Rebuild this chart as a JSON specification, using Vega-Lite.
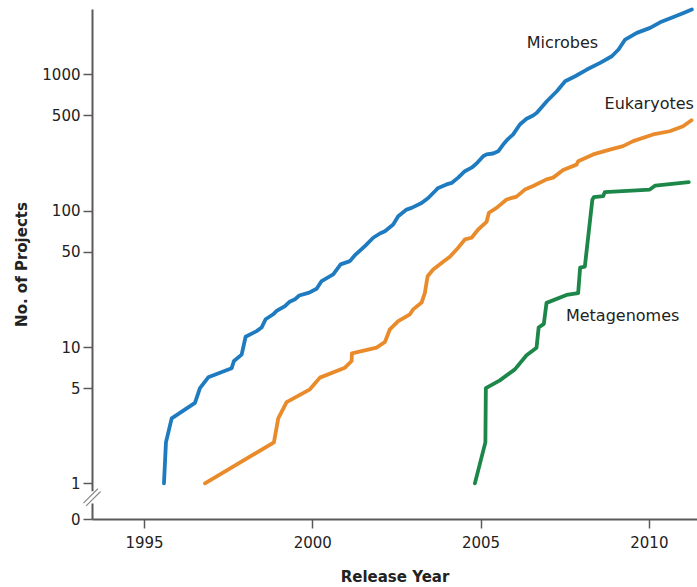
{
  "$schema": "https://vega.github.io/schema/vega-lite/v6.json",
  "autosize": {"type": "none"},
  "width": 605,
  "height": 510,
  "padding": {"left": 92, "top": 9, "right": 0, "bottom": 68},
  "background": "white",
  "config": {
    "view": {"stroke": null},
    "font": "DejaVu Sans",
    "axis": {
      "labelFont": "DejaVu Sans",
      "labelFontSize": 15,
      "labelColor": "#222222",
      "titleFont": "DejaVu Sans",
      "titleFontSize": 15,
      "titleFontWeight": "bold",
      "titleColor": "#222222",
      "domainColor": "#5a5a5a",
      "domainWidth": 2,
      "tickColor": "#5a5a5a",
      "tickWidth": 1.5,
      "tickSize": 9,
      "grid": false
    }
  },
  "datasets": {
    "curves": [
      {"series": "Microbes", "year": 1995.594, "count": 1},
      {"series": "Microbes", "year": 1995.653, "count": 2},
      {"series": "Microbes", "year": 1995.823, "count": 3},
      {"series": "Microbes", "year": 1996.515, "count": 3.9},
      {"series": "Microbes", "year": 1996.663, "count": 5},
      {"series": "Microbes", "year": 1996.91, "count": 6},
      {"series": "Microbes", "year": 1997.605, "count": 7},
      {"series": "Microbes", "year": 1997.673, "count": 7.9},
      {"series": "Microbes", "year": 1997.902, "count": 8.8},
      {"series": "Microbes", "year": 1998.02, "count": 11.9},
      {"series": "Microbes", "year": 1998.347, "count": 13.1},
      {"series": "Microbes", "year": 1998.493, "count": 13.9},
      {"series": "Microbes", "year": 1998.614, "count": 16},
      {"series": "Microbes", "year": 1998.84, "count": 17.4},
      {"series": "Microbes", "year": 1998.941, "count": 18.4},
      {"series": "Microbes", "year": 1999.188, "count": 20},
      {"series": "Microbes", "year": 1999.315, "count": 21.4},
      {"series": "Microbes", "year": 1999.485, "count": 22.4},
      {"series": "Microbes", "year": 1999.613, "count": 23.9},
      {"series": "Microbes", "year": 1999.91, "count": 25.1},
      {"series": "Microbes", "year": 2000.129, "count": 26.8},
      {"series": "Microbes", "year": 2000.278, "count": 30.5},
      {"series": "Microbes", "year": 2000.622, "count": 34.1},
      {"series": "Microbes", "year": 2000.842, "count": 40.4},
      {"series": "Microbes", "year": 2001.118, "count": 42.7},
      {"series": "Microbes", "year": 2001.267, "count": 47.2},
      {"series": "Microbes", "year": 2001.564, "count": 55},
      {"series": "Microbes", "year": 2001.81, "count": 63.4},
      {"series": "Microbes", "year": 2002.009, "count": 68.1},
      {"series": "Microbes", "year": 2002.158, "count": 70.8},
      {"series": "Microbes", "year": 2002.404, "count": 79.3},
      {"series": "Microbes", "year": 2002.553, "count": 91.2},
      {"series": "Microbes", "year": 2002.802, "count": 102},
      {"series": "Microbes", "year": 2002.951, "count": 105},
      {"series": "Microbes", "year": 2003.248, "count": 114},
      {"series": "Microbes", "year": 2003.444, "count": 124},
      {"series": "Microbes", "year": 2003.643, "count": 139},
      {"series": "Microbes", "year": 2003.741, "count": 147},
      {"series": "Microbes", "year": 2003.99, "count": 156},
      {"series": "Microbes", "year": 2004.139, "count": 160},
      {"series": "Microbes", "year": 2004.335, "count": 175},
      {"series": "Microbes", "year": 2004.534, "count": 195},
      {"series": "Microbes", "year": 2004.733, "count": 207},
      {"series": "Microbes", "year": 2004.881, "count": 222},
      {"series": "Microbes", "year": 2005.077, "count": 251},
      {"series": "Microbes", "year": 2005.178, "count": 259},
      {"series": "Microbes", "year": 2005.374, "count": 263},
      {"series": "Microbes", "year": 2005.523, "count": 273},
      {"series": "Microbes", "year": 2005.671, "count": 306},
      {"series": "Microbes", "year": 2005.82, "count": 337},
      {"series": "Microbes", "year": 2005.968, "count": 363},
      {"series": "Microbes", "year": 2006.167, "count": 429},
      {"series": "Microbes", "year": 2006.366, "count": 473},
      {"series": "Microbes", "year": 2006.562, "count": 500},
      {"series": "Microbes", "year": 2006.672, "count": 523},
      {"series": "Microbes", "year": 2006.969, "count": 636},
      {"series": "Microbes", "year": 2007.266, "count": 753},
      {"series": "Microbes", "year": 2007.513, "count": 891},
      {"series": "Microbes", "year": 2007.81, "count": 970},
      {"series": "Microbes", "year": 2008.157, "count": 1086},
      {"series": "Microbes", "year": 2008.552, "count": 1216},
      {"series": "Microbes", "year": 2008.9, "count": 1360},
      {"series": "Microbes", "year": 2009.099, "count": 1523},
      {"series": "Microbes", "year": 2009.295, "count": 1802},
      {"series": "Microbes", "year": 2009.642, "count": 2018},
      {"series": "Microbes", "year": 2010.037, "count": 2195},
      {"series": "Microbes", "year": 2010.334, "count": 2412},
      {"series": "Microbes", "year": 2010.732, "count": 2642},
      {"series": "Microbes", "year": 2011.029, "count": 2827},
      {"series": "Microbes", "year": 2011.276, "count": 2991},
      {"series": "Eukaryotes", "year": 1996.812, "count": 1},
      {"series": "Eukaryotes", "year": 1998.861, "count": 2},
      {"series": "Eukaryotes", "year": 1998.989, "count": 3},
      {"series": "Eukaryotes", "year": 1999.238, "count": 3.95},
      {"series": "Eukaryotes", "year": 1999.93, "count": 4.9},
      {"series": "Eukaryotes", "year": 2000.227, "count": 5.97},
      {"series": "Eukaryotes", "year": 2000.97, "count": 7.06},
      {"series": "Eukaryotes", "year": 2001.169, "count": 7.9},
      {"series": "Eukaryotes", "year": 2001.178, "count": 9},
      {"series": "Eukaryotes", "year": 2001.911, "count": 9.9},
      {"series": "Eukaryotes", "year": 2002.158, "count": 10.9},
      {"series": "Eukaryotes", "year": 2002.306, "count": 13.5},
      {"series": "Eukaryotes", "year": 2002.553, "count": 15.5},
      {"series": "Eukaryotes", "year": 2002.9, "count": 17.4},
      {"series": "Eukaryotes", "year": 2002.998, "count": 18.9},
      {"series": "Eukaryotes", "year": 2003.248, "count": 21.2},
      {"series": "Eukaryotes", "year": 2003.346, "count": 25},
      {"series": "Eukaryotes", "year": 2003.426, "count": 33.1},
      {"series": "Eukaryotes", "year": 2003.592, "count": 37.1},
      {"series": "Eukaryotes", "year": 2003.889, "count": 42.2},
      {"series": "Eukaryotes", "year": 2004.088, "count": 46},
      {"series": "Eukaryotes", "year": 2004.335, "count": 53.6},
      {"series": "Eukaryotes", "year": 2004.534, "count": 61.6},
      {"series": "Eukaryotes", "year": 2004.733, "count": 63.4},
      {"series": "Eukaryotes", "year": 2004.929, "count": 72.9},
      {"series": "Eukaryotes", "year": 2005.178, "count": 82.8},
      {"series": "Eukaryotes", "year": 2005.247, "count": 96.7},
      {"series": "Eukaryotes", "year": 2005.475, "count": 105},
      {"series": "Eukaryotes", "year": 2005.772, "count": 121},
      {"series": "Eukaryotes", "year": 2006.069, "count": 127},
      {"series": "Eukaryotes", "year": 2006.316, "count": 143},
      {"series": "Eukaryotes", "year": 2006.562, "count": 152},
      {"series": "Eukaryotes", "year": 2006.96, "count": 170},
      {"series": "Eukaryotes", "year": 2007.156, "count": 175},
      {"series": "Eukaryotes", "year": 2007.453, "count": 199},
      {"series": "Eukaryotes", "year": 2007.851, "count": 218},
      {"series": "Eukaryotes", "year": 2007.899, "count": 231},
      {"series": "Eukaryotes", "year": 2008.344, "count": 259},
      {"series": "Eukaryotes", "year": 2008.84, "count": 281},
      {"series": "Eukaryotes", "year": 2009.235, "count": 298},
      {"series": "Eukaryotes", "year": 2009.532, "count": 324},
      {"series": "Eukaryotes", "year": 2010.126, "count": 363},
      {"series": "Eukaryotes", "year": 2010.62, "count": 383},
      {"series": "Eukaryotes", "year": 2011.016, "count": 417},
      {"series": "Eukaryotes", "year": 2011.266, "count": 461},
      {"series": "Metagenomes", "year": 2004.831, "count": 1},
      {"series": "Metagenomes", "year": 2005.143, "count": 2},
      {"series": "Metagenomes", "year": 2005.157, "count": 5},
      {"series": "Metagenomes", "year": 2005.573, "count": 5.7},
      {"series": "Metagenomes", "year": 2006.019, "count": 6.86},
      {"series": "Metagenomes", "year": 2006.366, "count": 8.7},
      {"series": "Metagenomes", "year": 2006.663, "count": 9.9},
      {"series": "Metagenomes", "year": 2006.725, "count": 13.9},
      {"series": "Metagenomes", "year": 2006.88, "count": 14.8},
      {"series": "Metagenomes", "year": 2006.96, "count": 21.1},
      {"series": "Metagenomes", "year": 2007.554, "count": 24.1},
      {"series": "Metagenomes", "year": 2007.899, "count": 24.9},
      {"series": "Metagenomes", "year": 2007.958, "count": 38.2},
      {"series": "Metagenomes", "year": 2008.098, "count": 38.9},
      {"series": "Metagenomes", "year": 2008.32, "count": 120},
      {"series": "Metagenomes", "year": 2008.365, "count": 126},
      {"series": "Metagenomes", "year": 2008.641, "count": 128},
      {"series": "Metagenomes", "year": 2008.692, "count": 137},
      {"series": "Metagenomes", "year": 2010.028, "count": 143},
      {"series": "Metagenomes", "year": 2010.191, "count": 153},
      {"series": "Metagenomes", "year": 2011.186, "count": 162}
    ],
    "labels": [
      {"label": "Microbes", "year": 2007.43, "count": 1714},
      {"label": "Eukaryotes", "year": 2010.01, "count": 602},
      {"label": "Metagenomes", "year": 2009.22, "count": 16.9}
    ],
    "axisbreak": [
      {"year": 1993.456, "count": 0.79}
    ]
  },
  "layer": [
    {
      "data": {"name": "curves"},
      "mark": {"type": "line", "strokeWidth": 3.8, "strokeJoin": "round", "strokeCap": "round"},
      "encoding": {
        "x": {
          "field": "year", "type": "quantitative",
          "scale": {"domain": [1993.456, 2011.43], "nice": false, "zero": false},
          "axis": {"values": [1995, 2000, 2005, 2010], "format": "d", "title": "Release Year", "titlePadding": 19, "labelPadding": 7}
        },
        "y": {
          "field": "count", "type": "quantitative",
          "scale": {"type": "log", "domain": [0.548, 3020], "nice": false},
          "axis": {
            "values": [0.548, 1, 5, 10, 50, 100, 500, 1000],
            "labelExpr": "datum.value < 0.9 ? '0' : format(datum.value, 'd')",
            "title": "No. of Projects",
            "titlePadding": 12,
            "labelPadding": 3
          }
        },
        "color": {
          "field": "series", "type": "nominal",
          "scale": {"domain": ["Microbes", "Eukaryotes", "Metagenomes"], "range": ["#1f7bbf", "#e98b2b", "#1c8748"]},
          "legend": null
        },
        "detail": {"field": "series"}
      }
    },
    {
      "data": {"name": "labels"},
      "mark": {"type": "text", "fontSize": 16, "font": "DejaVu Sans", "color": "#222222", "align": "center", "baseline": "middle"},
      "encoding": {
        "x": {"field": "year", "type": "quantitative"},
        "y": {"field": "count", "type": "quantitative"},
        "text": {"field": "label"}
      }
    },
    {
      "data": {"name": "axisbreak"},
      "mark": {"type": "point", "shape": "square", "filled": true, "color": "white", "size": 150, "opacity": 1},
      "encoding": {
        "x": {"field": "year", "type": "quantitative"},
        "y": {"field": "count", "type": "quantitative"}
      }
    },
    {
      "data": {"name": "axisbreak"},
      "mark": {"type": "point", "shape": "M-0.95,0.65L0.65,-0.95M-0.65,0.95L0.95,-0.65", "filled": false, "stroke": "#8a8a8a", "strokeWidth": 1.2, "size": 324, "opacity": 1},
      "encoding": {
        "x": {"field": "year", "type": "quantitative"},
        "y": {"field": "count", "type": "quantitative"}
      }
    }
  ]
}
